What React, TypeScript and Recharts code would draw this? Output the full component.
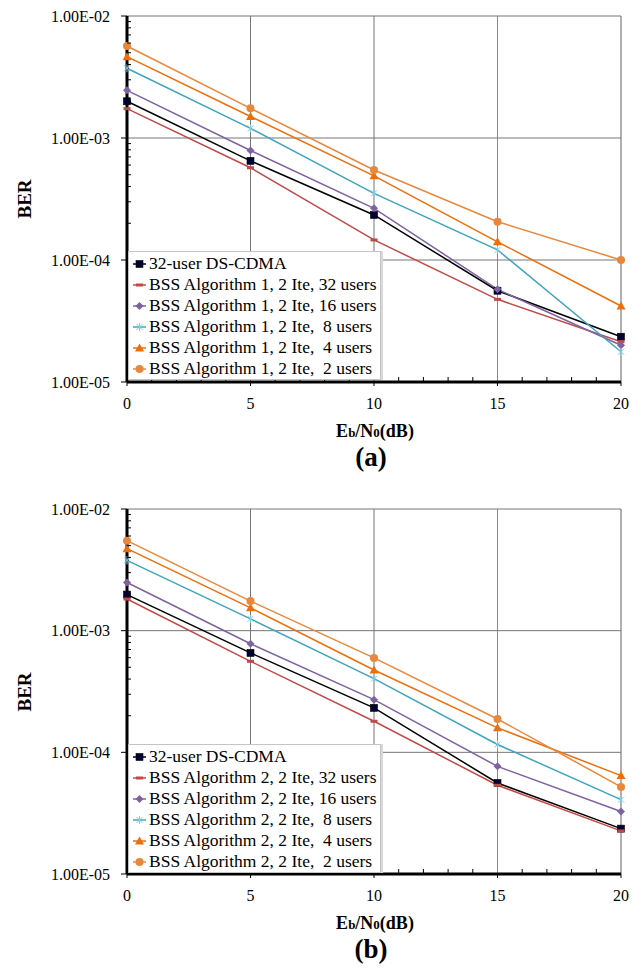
import React from 'react';
import { LineChart, Line, XAxis, YAxis, ReferenceLine, Legend } from 'recharts';

// Eb/N0 in dB
const EBNO = [0, 5, 10, 15, 20];

// (a) BSS Algorithm 1
const A_DSCDMA = [2.0e-3, 6.5e-4, 2.34e-4, 5.6e-5, 2.35e-5];
const A_U32 = [1.74e-3, 5.7e-4, 1.46e-4, 4.76e-5, 2.14e-5];
const A_U16 = [2.46e-3, 7.9e-4, 2.65e-4, 5.75e-5, 2.0e-5];
const A_U8 = [3.73e-3, 1.2e-3, 3.52e-4, 1.21e-4, 1.77e-5];
const A_U4 = [4.64e-3, 1.5e-3, 4.9e-4, 1.41e-4, 4.2e-5];
const A_U2 = [5.68e-3, 1.75e-3, 5.47e-4, 2.06e-4, 1.0e-4];

// (b) BSS Algorithm 2
const B_DSCDMA = [1.98e-3, 6.56e-4, 2.32e-4, 5.6e-5, 2.36e-5];
const B_U32 = [1.82e-3, 5.6e-4, 1.8e-4, 5.36e-5, 2.26e-5];
const B_U16 = [2.49e-3, 7.8e-4, 2.71e-4, 7.67e-5, 3.26e-5];
const B_U8 = [3.78e-3, 1.25e-3, 4.03e-4, 1.16e-4, 4.09e-5];
const B_U4 = [4.72e-3, 1.54e-3, 4.75e-4, 1.59e-4, 6.44e-5];
const B_U2 = [5.49e-3, 1.75e-3, 5.97e-4, 1.88e-4, 5.2e-5];

const A_NAMES = [
  '32-user DS-CDMA',
  'BSS Algorithm 1, 2 Ite, 32 users',
  'BSS Algorithm 1, 2 Ite, 16 users',
  'BSS Algorithm 1, 2 Ite,  8 users',
  'BSS Algorithm 1, 2 Ite,  4 users',
  'BSS Algorithm 1, 2 Ite,  2 users',
];
const B_NAMES = [
  '32-user DS-CDMA',
  'BSS Algorithm 2, 2 Ite, 32 users',
  'BSS Algorithm 2, 2 Ite, 16 users',
  'BSS Algorithm 2, 2 Ite,  8 users',
  'BSS Algorithm 2, 2 Ite,  4 users',
  'BSS Algorithm 2, 2 Ite,  2 users',
];

// axis ticks
const Y_MAJOR = [1e-5, 1e-4, 1e-3, 1e-2];
const Y_LABELS = ['1.00E-05', '1.00E-04', '1.00E-03', '1.00E-02'];
const Y_MINOR = [
  2e-5, 3e-5, 4e-5, 5e-5, 6e-5, 7e-5, 8e-5, 9e-5,
  2e-4, 3e-4, 4e-4, 5e-4, 6e-4, 7e-4, 8e-4, 9e-4,
  2e-3, 3e-3, 4e-3, 5e-3, 6e-3, 7e-3, 8e-3, 9e-3,
];
const X_MAJOR = [0, 5, 10, 15, 20];
const X_ALL = [0, 1, 2, 3, 4, 5, 6, 7, 8, 9, 10, 11, 12, 13, 14, 15, 16, 17, 18, 19, 20];

const KEYS = ['ds', 'u32', 'u16', 'u8', 'u4', 'u2'];

const STYLE: Record<string, { color: string; shape: string; fill: string }> = {
  ds: { color: '#000000', shape: 'square', fill: '#000033' },
  u32: { color: '#be4b48', shape: 'dash', fill: '#be4b48' },
  u16: { color: '#7e62a1', shape: 'diamond', fill: '#7e62a1' },
  u8: { color: '#40a4bf', shape: 'star', fill: '#7fcde2' },
  u4: { color: '#ee6e0c', shape: 'triangle', fill: '#ee6e0c' },
  u2: { color: '#e8883c', shape: 'circle', fill: '#e8883c' },
};

const FONT = '"Liberation Serif", "Times New Roman", serif';
const TICK_SIZE = 6;
const Y_TICK_MARGIN = 11;
const X_TICK_MARGIN = 9;

function Marker({ shape, cx, cy, fill }: { shape: string; cx: number; cy: number; fill: string }) {
  switch (shape) {
    case 'square':
      return <rect x={cx - 3.5} y={cy - 3.5} width={7} height={7} fill={fill} stroke="#000" strokeWidth={0.6} />;
    case 'dash':
      return <rect x={cx - 3.5} y={cy - 1.5} width={7} height={3} fill={fill} />;
    case 'diamond':
      return <path d={`M${cx},${cy - 4}L${cx + 4},${cy}L${cx},${cy + 4}L${cx - 4},${cy}Z`} fill={fill} />;
    case 'star':
      return (
        <path
          d={`M${cx - 3},${cy - 3}L${cx + 3},${cy + 3}M${cx - 3},${cy + 3}L${cx + 3},${cy - 3}M${cx},${cy - 4}L${cx},${cy + 4}`}
          stroke={fill}
          strokeWidth={1}
          fill="none"
        />
      );
    case 'triangle':
      return <path d={`M${cx},${cy - 4.5}L${cx + 4.5},${cy + 3.5}L${cx - 4.5},${cy + 3.5}Z`} fill={fill} />;
    default:
      return <circle cx={cx} cy={cy} r={4} fill={fill} />;
  }
}

// y ticks: labelled decades with outward tick, minor ticks drawn inward
const YTick = (props: any) => {
  const { x, y, payload } = props;
  const ax = x + TICK_SIZE + Y_TICK_MARGIN;
  const idx = Y_MAJOR.indexOf(payload.value);
  if (idx < 0) {
    return <line x1={ax} x2={ax + 4} y1={y} y2={y} stroke="#000" strokeWidth={1} />;
  }
  return (
    <g>
      <line x1={ax - TICK_SIZE} x2={ax} y1={y} y2={y} stroke="#000" strokeWidth={1} />
      <text x={x} y={y} dy="0.35em" textAnchor="end" fontFamily={FONT} fontSize={16} fill="#000">
        {Y_LABELS[idx]}
      </text>
    </g>
  );
};

const XTick = (props: any) => {
  const { x, y, payload } = props;
  const ay = y - TICK_SIZE - X_TICK_MARGIN;
  if (X_MAJOR.indexOf(payload.value) < 0) {
    return <line x1={x} x2={x} y1={ay} y2={ay - 5} stroke="#000" strokeWidth={1} />;
  }
  return (
    <g>
      <line x1={x} x2={x} y1={ay} y2={ay + 4} stroke="#000" strokeWidth={1} />
      <text x={x} y={y} dy="0.75em" textAnchor="middle" fontFamily={FONT} fontSize={16} fill="#000">
        {payload.value}
      </text>
    </g>
  );
};

// legend kept in series order (recharts sorts its payload by name)
const LegendBox = ({ names }: { names: string[] }) => (
  <div
    style={{
      background: '#fff',
      border: '1px solid #c4c4c4',
      boxShadow: '2px 0 0 #d9d9d9',
      padding: '1px 3px 0 3px',
      fontFamily: FONT,
      fontSize: 17.5,
      color: '#000',
    }}
  >
    {KEYS.map((k, j) => {
      const s = STYLE[k];
      return (
        <div key={k} style={{ display: 'flex', alignItems: 'center', height: 21, whiteSpace: 'pre' }}>
          <svg width={15} height={12} style={{ marginRight: 2 }}>
            <line x1={1} x2={14} y1={6} y2={6} stroke={s.color} strokeWidth={1.5} />
            <Marker shape={s.shape} cx={7.5} cy={6} fill={s.fill} />
          </svg>
          <span>{names[j]}</span>
        </div>
      );
    })}
  </div>
);

interface PanelProps {
  top: number;
  height: number;
  marginTop: number;
  marginBottom: number;
  series: number[][];
  names: string[];
  tag: string;
  legendTop: number;
}

const Panel = ({ top, height, marginTop, marginBottom, series, names, tag, legendTop }: PanelProps) => {
  const rows = EBNO.map((x, i) => {
    const r: any = { x };
    KEYS.forEach((k, j) => (r[k] = series[j][i]));
    return r;
  });
  const plotTop = marginTop;
  const plotBottom = height - marginBottom - 30;
  return (
    <div style={{ position: 'absolute', left: 0, top, width: 641, height }}>
      <LineChart width={641} height={height} data={rows} margin={{ top: marginTop, right: 20, left: 27, bottom: marginBottom }}>
        <ReferenceLine x={5} stroke="#767676" strokeWidth={1} />
        <ReferenceLine x={10} stroke="#767676" strokeWidth={1} />
        <ReferenceLine x={15} stroke="#8a8a8a" strokeWidth={1} />
        <ReferenceLine x={20} stroke="#b0b0b0" strokeWidth={2} />
        <ReferenceLine y={1e-4} stroke="#767676" strokeWidth={1} />
        <ReferenceLine y={1e-3} stroke="#767676" strokeWidth={1} />
        <ReferenceLine y={1e-2} stroke="#767676" strokeWidth={1} />
        <XAxis
          dataKey="x"
          type="number"
          domain={[0, 20]}
          ticks={X_ALL}
          interval={0}
          height={30}
          tickSize={TICK_SIZE}
          tickMargin={X_TICK_MARGIN}
          tickLine={false}
          tick={(p: any) => <XTick {...p} />}
          axisLine={{ stroke: '#000', strokeWidth: 3 }}
        />
        <YAxis
          scale="log"
          domain={[1e-5, 1e-2]}
          allowDataOverflow
          ticks={[...Y_MAJOR, ...Y_MINOR]}
          interval={0}
          width={100}
          tickSize={TICK_SIZE}
          tickMargin={Y_TICK_MARGIN}
          tickLine={false}
          tick={(p: any) => <YTick {...p} />}
          axisLine={{ stroke: '#000', strokeWidth: 3 }}
        />
        {KEYS.map((k, j) => (
          <Line
            key={k}
            dataKey={k}
            name={names[j]}
            type="linear"
            stroke={STYLE[k].color}
            strokeWidth={1.5}
            isAnimationActive={false}
            dot={(p: any) => (
              <Marker key={`${k}-${p.index}`} shape={STYLE[k].shape} cx={p.cx} cy={p.cy} fill={STYLE[k].fill} />
            )}
            activeDot={false}
          />
        ))}
        <Legend
          layout="vertical"
          align="center"
          verticalAlign="middle"
          content={() => <LegendBox names={names} />}
          wrapperStyle={{ left: 128, top: legendTop, width: 'auto', height: 'auto' }}
        />
      </LineChart>
      <div
        style={{
          position: 'absolute',
          left: 24,
          top: (plotTop + plotBottom) / 2,
          transform: 'translate(-50%, -50%) rotate(-90deg)',
          fontFamily: FONT,
          fontWeight: 'bold',
          fontSize: 19,
          lineHeight: 1,
        }}
      >
        BER
      </div>
      <div
        style={{
          position: 'absolute',
          left: 375,
          top: plotBottom + 49,
          transform: 'translate(-50%, -50%)',
          fontFamily: FONT,
          fontWeight: 'bold',
          fontSize: 18,
          lineHeight: 1,
          whiteSpace: 'nowrap',
        }}
      >
        E<span style={{ fontSize: 13 }}>b</span>/N<span style={{ fontSize: 13 }}>0</span>(dB)
      </div>
      <div
        style={{
          position: 'absolute',
          left: 371,
          top: plotBottom + 75,
          transform: 'translate(-50%, -50%)',
          fontFamily: FONT,
          fontWeight: 'bold',
          fontSize: 27,
          lineHeight: 1,
        }}
      >
        ({tag})
      </div>
    </div>
  );
};

export default function App() {
  return (
    <div style={{ position: 'absolute', left: 0, top: 0, width: 641, height: 971, background: '#fff' }}>
      <Panel
        top={0}
        height={480}
        marginTop={16}
        marginBottom={68}
        series={[A_DSCDMA, A_U32, A_U16, A_U8, A_U4, A_U2]}
        names={A_NAMES}
        tag="a"
        legendTop={251}
      />
      <Panel
        top={480}
        height={491}
        marginTop={29}
        marginBottom={67}
        series={[B_DSCDMA, B_U32, B_U16, B_U8, B_U4, B_U2]}
        names={B_NAMES}
        tag="b"
        legendTop={264}
      />
    </div>
  );
}
